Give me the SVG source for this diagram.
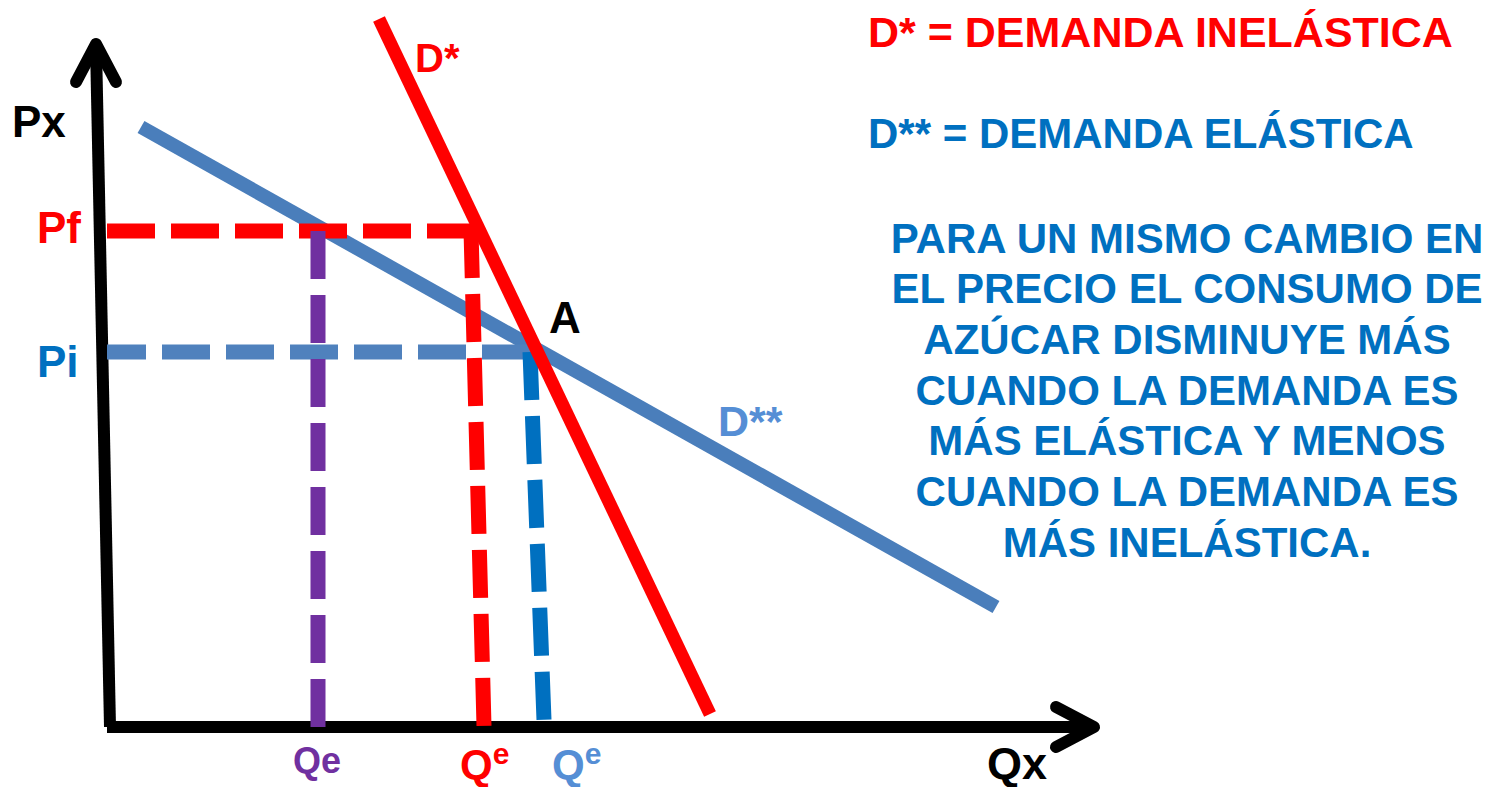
<svg xmlns="http://www.w3.org/2000/svg" width="1501" height="787" viewBox="0 0 1501 787">
<style>
text{font-family:"Liberation Sans",Arial,sans-serif;font-weight:bold}
.dash{fill:none;stroke-width:15;stroke-dasharray:48 16}
.axis{fill:none;stroke:#000;stroke-width:12;stroke-linecap:round;stroke-linejoin:round}
.red{fill:#FF0000}.blue{fill:#0070C0}.lblue{fill:#558ED5}.purple{fill:#7030A0}.blk{fill:#000}
</style>
<rect width="1501" height="787" fill="#fff"/>
<g id="axes">
<line class="axis" x1="110" y1="727" x2="96" y2="46" style="stroke-linecap:butt"/>
<polyline class="axis" points="76,82 96,44 116,82"/>
<line class="axis" x1="107" y1="727" x2="1094" y2="727" style="stroke-linecap:butt"/>
<polyline class="axis" points="1056,707 1094,727 1056,747"/>
</g>
<g id="connectors">
<line id="d2" x1="141" y1="127" x2="996" y2="607" stroke="#4A7EBB" stroke-width="14"/>
<line class="dash" x1="107" y1="231" x2="476" y2="231" stroke="#FF0000"/>
<line class="dash" x1="107" y1="352" x2="530" y2="352" stroke="#4F81BD" stroke-dashoffset="9"/>
<line class="dash" x1="318" y1="231" x2="318" y2="727" stroke="#7030A0"/>
<line class="dash" x1="471" y1="230" x2="484" y2="726" stroke="#FF0000"/>
<line class="dash" x1="530" y1="352" x2="544" y2="720" stroke="#0070C0"/>
<line id="d1" x1="379" y1="19" x2="710" y2="714" stroke="#FF0000" stroke-width="13"/>
</g>
<g id="labels">
<text x="12" y="137" font-size="44" class="blk">Px</text>
<text x="37" y="243" font-size="44" class="red">Pf</text>
<text x="37" y="377" font-size="44" class="blue">Pi</text>
<text x="549" y="333" font-size="44" class="blk">A</text>
<text x="415" y="72" font-size="40" class="red">D*</text>
<text x="718" y="436" font-size="43" class="lblue">D**</text>
<text x="293" y="773" font-size="36" class="purple">Qe</text>
<text x="460" y="779" font-size="42" class="red">Q<tspan font-size="30" dy="-15">e</tspan></text>
<text x="552" y="779" font-size="42" class="lblue">Q<tspan font-size="30" dy="-15">e</tspan></text>
<text x="987" y="779" font-size="45" class="blk">Qx</text>
</g>
<g id="legend">
<text x="868" y="47" font-size="43" class="red">D* = DEMANDA INELÁSTICA</text>
<text x="868" y="148" font-size="42" class="blue">D** = DEMANDA ELÁSTICA</text>
</g>
<g id="note" text-anchor="middle" font-size="42" fill="#0070C0">
<text x="1187" y="253">PARA UN MISMO CAMBIO EN</text>
<text x="1187" y="303">EL PRECIO EL CONSUMO DE</text>
<text x="1187" y="354">AZÚCAR DISMINUYE MÁS</text>
<text x="1187" y="405">CUANDO LA DEMANDA ES</text>
<text x="1187" y="455">MÁS ELÁSTICA Y MENOS</text>
<text x="1187" y="506">CUANDO LA DEMANDA ES</text>
<text x="1187" y="557">MÁS INELÁSTICA.</text>
</g>
</svg>
